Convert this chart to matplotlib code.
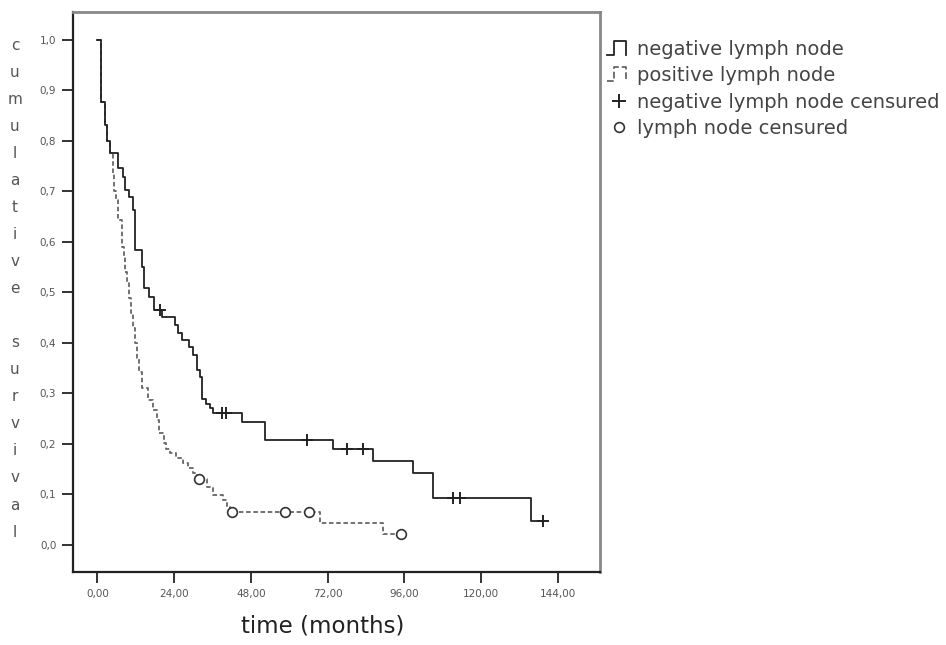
import numpy as np
import matplotlib.pyplot as plt
from matplotlib.lines import Line2D
from matplotlib.legend_handler import HandlerBase

# negative lymph node: step times (months) and survival after each step
neg_t = [0, 1.06, 2.4, 3.1, 4.0, 6.6, 7.9, 8.7, 10.0, 11.0, 11.8, 13.9, 14.7, 16.3, 17.8,
         20.1, 24.3, 25.3, 26.4, 28.8, 30.0, 31.1, 32.1, 32.6, 34.0, 35.2, 36.3, 45.1, 52.5,
         73.8, 86.2, 98.7, 105.0, 135.5, 139.4]
neg_s = [1.0, 0.878, 0.832, 0.800, 0.776, 0.746, 0.729, 0.703, 0.690, 0.663, 0.584, 0.551, 0.509,
         0.492, 0.465, 0.452, 0.436, 0.419, 0.406, 0.393, 0.376, 0.347, 0.333, 0.290, 0.280, 0.271,
         0.262, 0.244, 0.208, 0.190, 0.167, 0.143, 0.094, 0.048, 0.048]
neg_cens_t = [19.6, 38.9, 40.1, 65.4, 77.9, 83.1, 111.3, 113.3, 139.4]
neg_cens_s = [0.465, 0.262, 0.262, 0.208, 0.190, 0.190, 0.094, 0.094, 0.048]

# positive lymph node
pos_t = [0, 1.06, 2.4, 3.1, 4.0, 4.8, 5.3, 5.8, 6.6, 7.6, 8.2, 8.7, 9.3, 9.8, 10.4, 11.0, 11.8,
         12.4, 13.1, 13.9, 15.9, 17.5, 18.5, 19.2, 20.8, 21.5, 22.6, 24.7, 26.7, 28.3, 30.0, 31.0,
         34.2, 36.3, 39.3, 40.4, 41.5, 69.6, 89.4, 94.8]
pos_s = [1.0, 0.878, 0.832, 0.800, 0.776, 0.735, 0.700, 0.683, 0.644, 0.591, 0.570, 0.540, 0.520,
         0.490, 0.460, 0.430, 0.400, 0.370, 0.343, 0.310, 0.287, 0.267, 0.248, 0.222, 0.202, 0.190,
         0.182, 0.172, 0.162, 0.152, 0.143, 0.131, 0.115, 0.099, 0.089, 0.076, 0.066, 0.044, 0.022,
         0.022]
pos_cens_t = [31.9, 42.0, 58.7, 66.3, 94.8]
pos_cens_s = [0.131, 0.066, 0.066, 0.066, 0.022]

xticks = [0, 24, 48, 72, 96, 120, 144]
yticks = [0.0, 0.1, 0.2, 0.3, 0.4, 0.5, 0.6, 0.7, 0.8, 0.9, 1.0]
labels = ['negative lymph node', 'positive lymph node', 'negative lymph node censured',
          'lymph node censured']
ylabel = 'cumulative survival'

W, H = 946, 645
fig = plt.figure(figsize=(W / 100, H / 100), dpi=100)
ax = fig.add_axes([73 / W, 1 - 572 / H, (600 - 73) / W, (572 - 12) / H])

ax.step(pos_t, pos_s, where='post', color='#666666', lw=1.3, linestyle=(0, (2.5, 1.5)), zorder=2)
ax.step(neg_t, neg_s, where='post', color='#222222', lw=1.3, zorder=3)
ax.plot(neg_cens_t, neg_cens_s, ls='none', marker='+', ms=8, mew=1.4, color='#222222', zorder=4)
ax.plot(pos_cens_t, pos_cens_s, ls='none', marker='o', ms=7, mew=1.2, mfc='white',
        mec='#333333', zorder=4)

ax.set_xlim(-7.6, 157.1)
ax.set_ylim(-0.0535, 1.0554)
ax.set_xticks(xticks)
ax.set_xticklabels([f'{v:.2f}'.replace('.', ',') for v in xticks])
ax.set_yticks(yticks)
ax.set_yticklabels([f'{v:.1f}'.replace('.', ',') for v in yticks])
ax.tick_params(length=8, width=1.4, color='#333333', labelsize=7.5, labelcolor='#555555', pad=4)
for side in ['left', 'bottom']:
    ax.spines[side].set_linewidth(1.6)
    ax.spines[side].set_color('#222222')
for side in ['top', 'right']:
    ax.spines[side].set_linewidth(2)
    ax.spines[side].set_color('#888888')

# stacked vertical y label
for i, ch in enumerate(ylabel):
    fig.text(15 / W, 1 - (45 + i * 27.06) / H, ch, ha='center', va='center',
             fontsize=11, color='#555555')

fig.text(323 / W, 1 - 626 / H, 'time (months)', ha='center', va='center', fontsize=16.5,
         color='#222222')


class StepHandler(HandlerBase):
    def create_artists(self, legend, orig, x0, y0, width, height, fontsize, trans):
        xs = [x0, x0 + width * 0.3, x0 + width * 0.3, x0 + width * 0.8, x0 + width * 0.8]
        ys = [y0, y0, y0 + height, y0 + height, y0]
        line = Line2D(xs, ys, color=orig.get_color(), lw=orig.get_linewidth(),
                      linestyle=orig.get_linestyle(), transform=trans)
        return [line]


h_neg = Line2D([], [], color='#222222', lw=1.3)
h_pos = Line2D([], [], color='#666666', lw=1.3, linestyle=(0, (2, 1.5)))
h_plus = Line2D([], [], ls='none', marker='+', ms=10, mew=1.4, color='#222222')
h_circ = Line2D([], [], ls='none', marker='o', ms=7, mew=1.2, mfc='white', mec='#333333')
fig.legend([h_neg, h_pos, h_plus, h_circ], labels, loc='upper left',
           bbox_to_anchor=(597 / W, 1 - 30 / H), frameon=False, borderpad=0,
           fontsize=14, handlelength=1.25, handletextpad=0.3, labelspacing=0.38,
           labelcolor='#444444',
           handler_map={h_neg: StepHandler(), h_pos: StepHandler()})

fig.savefig('out.png', dpi=100)
